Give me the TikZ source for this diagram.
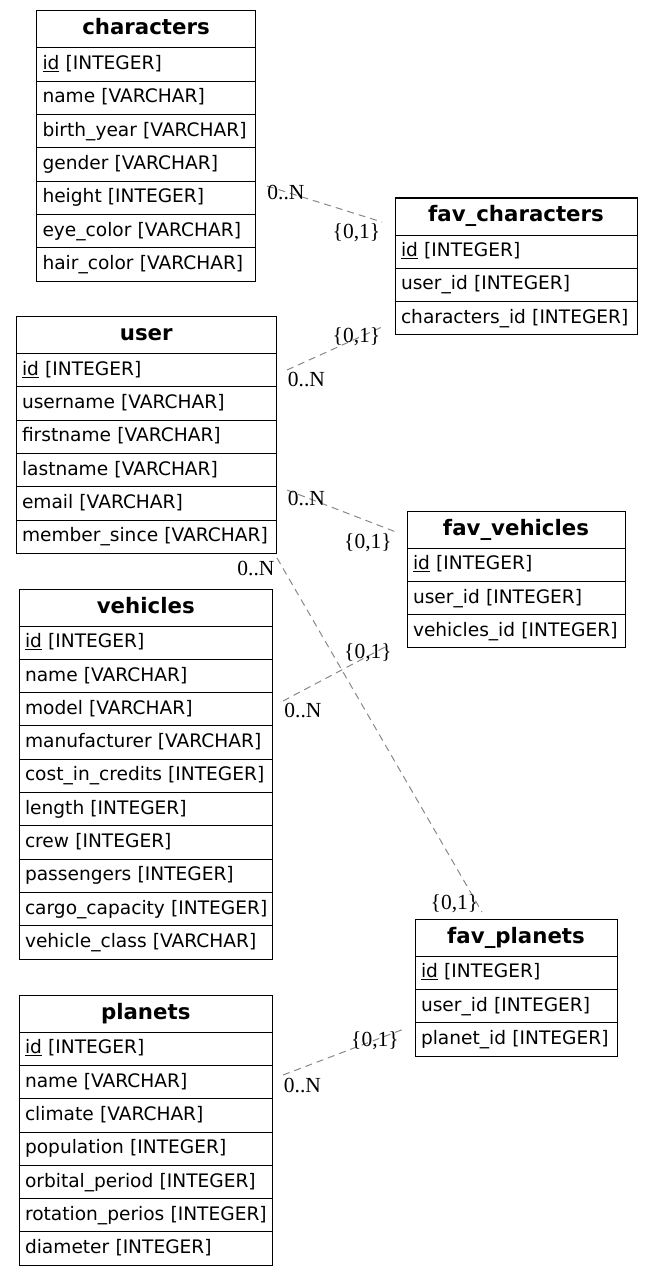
\documentclass[tikz,border=0pt]{standalone}
\usepackage{fontspec}
\setmainfont{DejaVu Sans}
\newfontfamily\cardfont{Liberation Serif}
\usetikzlibrary{positioning}
\definecolor{relgray}{HTML}{888888}

\tikzset{
  tblhead/.style={draw, line width=1pt, outer sep=0pt, inner xsep=6pt, inner ysep=0pt, minimum height=37pt,
    align=center, font=\fontsize{21.3}{25}\selectfont\bfseries, text height=16pt, text depth=5pt},
  tblrow/.style={draw, line width=1pt, outer sep=0pt, inner xsep=6pt, inner ysep=0pt, minimum height=33.33pt,
    align=left, font=\fontsize{18.6}{22}\selectfont, text height=14pt, text depth=4pt},
  rel/.style={draw=relgray, line width=1pt, dash pattern=on 7pt off 5pt},
  card/.style={font=\cardfont\fontsize{21.5}{25}\selectfont, inner sep=0pt, anchor=base}
}

% table: name, x, y (top), width, title, fields
\newcommand{\ertable}[6]{%
  \pgfmathsetmacro\tblw{#4-12}
  \node[tblhead, text width=\tblw pt, anchor=north west, alias=#1-0] (#1) at (#2,#3) {\mbox{#5}};
  \foreach \fld [count=\i, remember=\i as \j (initially 0)] in {#6}
    \node[tblrow, text width=\tblw pt, anchor=north west] (#1-\i) at (#1-\j.south west) {\mbox{\fld}};
}

\begin{document}
\begin{tikzpicture}[x=1pt,y=-1pt]
  \fill[white] (0,0) rectangle (652,1276);
  \useasboundingbox (0,0) rectangle (652,1276);

  \ertable{characters}{36.5}{11}{219}{characters}{\underline{id} [INTEGER], name [VARCHAR], birth\_year [VARCHAR], gender [VARCHAR], height [INTEGER], eye\_color [VARCHAR], hair\_color [VARCHAR]}
  \ertable{favchar}{395}{198}{242}{fav\_characters}{\underline{id} [INTEGER], user\_id [INTEGER], characters\_id [INTEGER]}
  \ertable{user}{16}{316.5}{260.5}{user}{\underline{id} [INTEGER], username [VARCHAR], firstname [VARCHAR], lastname [VARCHAR], email [VARCHAR], member\_since [VARCHAR]}
  \ertable{favveh}{407}{511}{218}{fav\_vehicles}{\underline{id} [INTEGER], user\_id [INTEGER], vehicles\_id [INTEGER]}
  \ertable{vehicles}{19}{589}{253.5}{vehicles}{\underline{id} [INTEGER], name [VARCHAR], model [VARCHAR], manufacturer [VARCHAR], cost\_in\_credits [INTEGER], length [INTEGER], crew [INTEGER], passengers [INTEGER], cargo\_capacity [INTEGER], vehicle\_class [VARCHAR]}
  \ertable{favplan}{415}{919}{202}{fav\_planets}{\underline{id} [INTEGER], user\_id [INTEGER], planet\_id [INTEGER]}
  \ertable{planets}{19}{995}{253.5}{planets}{\underline{id} [INTEGER], name [VARCHAR], climate [VARCHAR], population [INTEGER], orbital\_period [INTEGER], rotation\_perios [INTEGER], diameter [INTEGER]}

  % relation ends
  \coordinate (chr-r) at (267,186);
  \coordinate (fch-l1) at (382,222);
  \coordinate (usr-r1) at (287,370);
  \coordinate (fch-l2) at (382,327);
  \coordinate (usr-r2) at (287,490);
  \coordinate (fvh-l1) at (396,532);
  \coordinate (usr-r3) at (277,558);
  \coordinate (fpl-t) at (482,912);
  \coordinate (veh-r) at (283,701);
  \coordinate (fvh-l2) at (387,646);
  \coordinate (pla-r) at (283,1075);
  \coordinate (fpl-l) at (404,1029);

  \draw[rel] (chr-r) -- (fch-l1);
  \draw[rel] (usr-r1) -- (fch-l2);
  \draw[rel] (usr-r2) -- (fvh-l1);
  \draw[rel] (usr-r3) -- (fpl-t);
  \draw[rel] (veh-r) -- (fvh-l2);
  \draw[rel] (pla-r) -- (fpl-l);

  % cardinalities
  \node[card] (c1) at (286,200) {0..N};
  \node[card] (c2) at (356.5,238) {\{0,1\}};
  \node[card] (c3) at (356.5,342) {\{0,1\}};
  \node[card] (c4) at (306.5,386) {0..N};
  \node[card] (c5) at (306.5,505) {0..N};
  \node[card] (c6) at (368,548) {\{0,1\}};
  \node[card] (c7) at (256,575) {0..N};
  \node[card] (c8) at (368,658) {\{0,1\}};
  \node[card] (c9) at (303,717) {0..N};
  \node[card] (c10) at (454.5,909) {\{0,1\}};
  \node[card] (c11) at (375,1046) {\{0,1\}};
  \node[card] (c12) at (302.5,1092) {0..N};
\end{tikzpicture}
\end{document}
